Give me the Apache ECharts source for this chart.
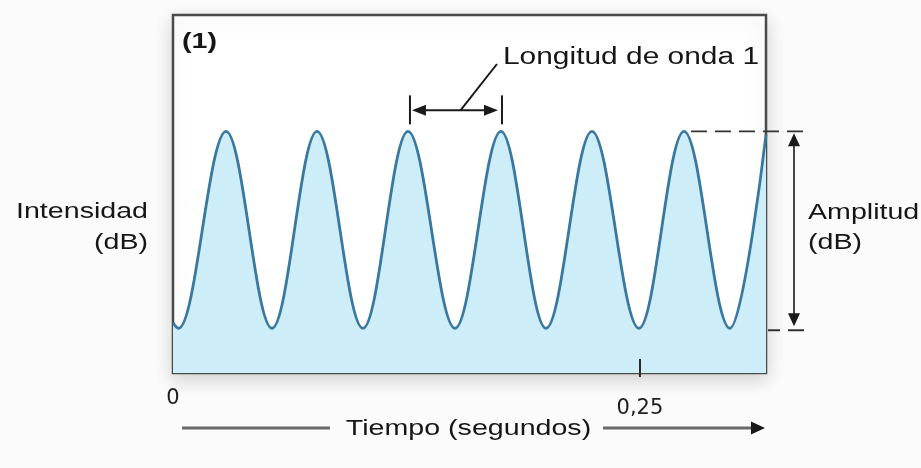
<!DOCTYPE html>
<html>
<head>
<meta charset="utf-8">
<script src="https://cdn.jsdelivr.net/npm/echarts@6/dist/echarts.min.js"></script>
<style>
  html, body { margin: 0; padding: 0; background: #fbfbfb; }
  #chart { width: 921px; height: 468px; }
</style>
</head>
<body>
<div id="chart"></div>
<script>
// Time (s) of the points read along the wave (start, troughs and peaks)
const times  = [0, 0.0030, 0.0284, 0.0530, 0.0771, 0.1017, 0.1258, 0.1510, 0.1756, 0.1997, 0.2243, 0.2495, 0.2736, 0.2982, 0.3175];
// Intensity (arbitrary dB scale, 0 = bottom of the frame)
const values = [14, 12.5, 67.5, 12.5, 67.5, 12.5, 67.5, 12.5, 67.5, 12.5, 67.5, 12.5, 67.5, 12.5, 66.5];
// Tick labels on the time axis
const tickValues = [0, 0.25];
const tickMarks = [0.25];
const xMax = 0.3175;
const yMax = 100;

const FONT = '"Liberation Sans", Arial, sans-serif';
const SX = 1.3; // horizontal stretch of the original lettering

const chart = echarts.init(document.getElementById('chart'), null, { renderer: 'canvas' });

const option = {
  backgroundColor: '#fbfbfb',
  animation: false,
  grid: {
    left: 173, top: 15, width: 593, height: 358,
    outerBoundsMode: 'none',
    show: true,
    backgroundColor: '#ffffff',
    borderColor: '#4a4a4a',
    borderWidth: 2.5,
    shadowBlur: 18,
    shadowColor: 'rgba(0,0,0,0.16)',
    shadowOffsetY: 6
  },
  xAxis: {
    type: 'value', min: 0, max: xMax,
    z: 10,
    axisLine: { show: false },
    splitLine: { show: false },
    axisTick: {
      show: true, inside: true, length: 14, customValues: tickMarks,
      lineStyle: { color: '#2a2a2a', width: 2 }
    },
    axisLabel: {
      show: true, customValues: tickValues, margin: 15,
      formatter: function (v) { return v === 0 ? '{a|0}' : '{b|' + String(v).replace('.', ',') + '}'; },
      rich: {
        a: { fontFamily: '"DejaVu Sans", sans-serif', fontSize: 21, color: '#1e1e1e' },
        b: { fontFamily: '"DejaVu Sans", sans-serif', fontSize: 21, color: '#1e1e1e', padding: [10, 0, 0, 0] }
      }
    }
  },
  yAxis: { type: 'value', min: 0, max: yMax, show: false },
  series: [{
    type: 'line',
    data: times.map((t, i) => [t, values[i]]),
    smooth: 0.36,
    smoothMonotone: 'x',
    symbol: 'none',
    lineStyle: { color: '#3a78a0', width: 2.8 },
    areaStyle: { color: '#cdeef9', opacity: 1, origin: 'start' },
    clip: true
  }]
};
chart.setOption(option);

function px(t, v) { return chart.convertToPixel({ gridIndex: 0 }, [t, v]); }
const peakV = Math.max.apply(null, values);
const troughV = Math.min.apply(null, values);
const pA = px(times[6], peakV);   // peak before the wavelength arrow
const pB = px(times[8], peakV);   // next peak
const peakY = pA[1];
const troughY = px(0, troughV)[1];
const rightX = px(xMax, 0)[0];
const x0 = px(0, 0)[0];
const bottomY = px(0, 0)[1];
const tickX = px(tickMarks[0], 0)[0];

const INK = '#1a1a1a';
const g = [];
function line(x1, y1, x2, y2, style) {
  g.push({ type: 'line', shape: { x1, y1, x2, y2 }, style: Object.assign({ stroke: INK, lineWidth: 2 }, style || {}), z: 10 });
}
function tri(points, fill) {
  g.push({ type: 'polygon', shape: { points }, style: { fill: fill || INK }, z: 10 });
}
function text(str, x, y, align, opts) {
  g.push({
    type: 'text', x, y, scaleX: SX, z: 10,
    style: { text: str, font: (opts && opts.font) || ('22px ' + FONT), fill: '#161616', align, verticalAlign: 'middle' }
  });
}

// small outward stub of the 0,25 tick below the frame
line(tickX, bottomY, tickX, bottomY + 4, { stroke: '#2a2a2a', lineWidth: 2 });

// Wavelength marker
const aY = peakY - 21;
line(pA[0] + 2, peakY - 36, pA[0] + 2, peakY - 7);
line(pB[0] + 1, peakY - 36, pB[0] + 1, peakY - 7);
line(pA[0] + 10, aY, pB[0] - 8, aY);
tri([[pA[0] + 4, aY], [pA[0] + 18, aY - 5.5], [pA[0] + 18, aY + 5.5]]);
tri([[pB[0] - 3, aY], [pB[0] - 17, aY - 5.5], [pB[0] - 17, aY + 5.5]]);
line((pA[0] + pB[0]) / 2 + 6, aY, pB[0] - 4, 64);
text('Longitud de onda 1', pB[0] + 2, 58, 'left', { font: '23px ' + FONT });

// Amplitude marker
const ampX = rightX + 28;
line(pB[0] + 190, peakY, rightX + 44, peakY, { lineDash: [16, 8], lineWidth: 1.8, stroke: '#333' });
line(rightX + 2, troughY + 2, rightX + 44, troughY + 2, { lineDash: [16, 8], lineDashOffset: 4, lineWidth: 1.8, stroke: '#333' });
line(ampX, peakY + 8, ampX, troughY - 6, { lineWidth: 1.6 });
tri([[ampX, peakY + 2], [ampX - 6, peakY + 15], [ampX + 6, peakY + 15]]);
tri([[ampX, troughY - 2], [ampX - 6, troughY - 15], [ampX + 6, troughY - 15]]);
text('Amplitud', rightX + 42, 213, 'left');
text('(dB)', rightX + 42, 243, 'left');

// Y label
text('Intensidad', x0 - 25, 212, 'right');
text('(dB)', x0 - 25, 243, 'right');

// Panel tag
text('(1)', x0 + 9, 42, 'left', { font: 'bold 22px ' + FONT });

// Time axis title with arrow
const tY = 428;
line(x0 + 9, tY, x0 + 157, tY, { stroke: '#6a6a6a', lineWidth: 3 });
line(rightX - 163, tY, rightX - 12, tY, { stroke: '#6a6a6a', lineWidth: 3 });
tri([[rightX - 1, tY], [rightX - 15, tY - 6.5], [rightX - 15, tY + 6.5]]);
text('Tiempo (segundos)', (x0 + rightX) / 2 - 1, tY + 1, 'center', { font: '22px ' + FONT });

chart.setOption({ graphic: g });
</script>
</body>
</html>
